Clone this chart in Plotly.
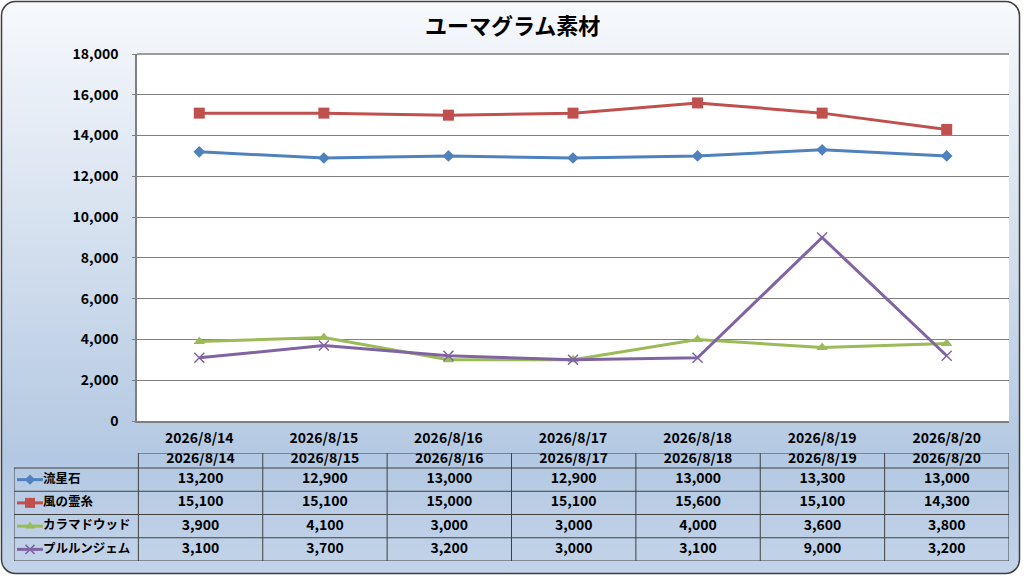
import base64

import plotly.graph_objects as go

W, H = 1024, 576

dates = ['2026/8/14', '2026/8/15', '2026/8/16', '2026/8/17', '2026/8/18', '2026/8/19', '2026/8/20']
series_names = ['流星石', '風の霊糸', 'カラマドウッド', 'プルルンジェム']
ryuseiseki = [13200, 12900, 13000, 12900, 13000, 13300, 13000]
kaze_no_reishi = [15100, 15100, 15000, 15100, 15600, 15100, 14300]
karama_wood = [3900, 4100, 3000, 3000, 4000, 3600, 3800]
pururun_gem = [3100, 3700, 3200, 3000, 3100, 9000, 3200]
y_ticks = [0, 2000, 4000, 6000, 8000, 10000, 12000, 14000, 16000, 18000]

series_values = [ryuseiseki, kaze_no_reishi, karama_wood, pururun_gem]
colors = ['#4F81BD', '#C0504D', '#9BBB59', '#8064A2']
symbols = ['diamond', 'square', 'triangle-up', 'x-thin']
sizes = [9, 11, 10, 10]

FONT = 'Noto Sans CJK JP'
TXT = dict(family=FONT, size=14, color='black', weight='bold')
NAME_TXT = dict(family=FONT, size=12.5, color='black', weight='bold')

# pixel layout (Excel-like chart with a data table underneath)
plot_l, plot_r, plot_t, plot_b = 137, 1009, 54, 421
tbl_l, tbl_r, tbl_t, tbl_b = 14, 1009, 453, 561
hdr_h = 15
row_h = (tbl_b - tbl_t - hdr_h) / 4
col_w = (tbl_r - tbl_l) / (len(dates) + 1)
hdr_rows = hdr_h / row_h


def px_x(v):
    return v / W


def px_y(v):
    return 1 - v / H


def tbl_x(px):
    # pixel -> table axis units (column 0 is the legend column)
    return (px - tbl_l) / col_w - 0.5


def tbl_y(px):
    return (px - tbl_t - hdr_h) / row_h - 0.5


# background: rounded box with a vertical white -> light blue gradient
bg_svg = f'''<svg xmlns="http://www.w3.org/2000/svg" width="{W}" height="{H}" viewBox="0 0 {W} {H}">
<defs><linearGradient id="g" x1="0" y1="0" x2="0" y2="1">
<stop offset="0" stop-color="#f7f9fc"/><stop offset="0.8" stop-color="#b3c8e2"/>
<stop offset="1" stop-color="#c3d4e9"/>
</linearGradient></defs>
<rect x="1.5" y="1.5" width="1018" height="572" rx="14" ry="14" fill="url(#g)" stroke="#3f3f3f" stroke-width="1.5"/>
</svg>'''
bg_src = 'data:image/svg+xml;base64,' + base64.b64encode(bg_svg.encode('utf-8')).decode('ascii')

fig = go.Figure()

for name, vals, col, sym, sz in zip(series_names, series_values, colors, symbols, sizes):
    fig.add_trace(go.Scatter(
        x=dates, y=vals, name=name, mode='lines+markers',
        line=dict(color=col, width=3),
        marker=dict(symbol=sym, size=sz, color=col, line=dict(color=col, width=1.5 if sym == 'x-thin' else 0)),
        showlegend=False, hoverinfo='x+y+name'))

# ---- data table on its own axes: columns 0..7 (0 = legend), rows 0..3 ----
n_cols = len(dates)
fig.add_trace(go.Scatter(
    x=list(range(1, n_cols + 1)), y=[tbl_y(459)] * n_cols, text=dates,
    mode='text', textposition='middle center', textfont=TXT,
    xaxis='x3', yaxis='y3', showlegend=False, hoverinfo='skip'))

for i, (name, vals, col, sym, sz) in enumerate(zip(series_names, series_values, colors, symbols, sizes)):
    fig.add_trace(go.Scatter(
        x=list(range(1, n_cols + 1)), y=[i] * n_cols, text=[f'{v:,}' for v in vals],
        mode='text', textposition='middle center', textfont=TXT,
        xaxis='x3', yaxis='y3', showlegend=False, hoverinfo='skip'))
    fig.add_trace(go.Scatter(
        x=[tbl_x(43)], y=[i], text=[name], mode='text', textposition='middle right', textfont=NAME_TXT,
        xaxis='x3', yaxis='y3', showlegend=False, hoverinfo='skip'))
    # legend key
    fig.add_trace(go.Scatter(
        x=[tbl_x(17), tbl_x(43)], y=[i, i], mode='lines', line=dict(color=col, width=3),
        xaxis='x3', yaxis='y3', showlegend=False, hoverinfo='skip'))
    fig.add_trace(go.Scatter(
        x=[tbl_x(30)], y=[i], mode='markers',
        marker=dict(symbol=sym, size=sz - 1, color=col, line=dict(color=col, width=1.5 if sym == 'x-thin' else 0)),
        xaxis='x3', yaxis='y3', showlegend=False, hoverinfo='skip'))

line_style = dict(color='#404040', width=1)
table_lines = []
hdr_top = -0.5 - hdr_rows
n_rows = len(series_names)
table_lines.append(dict(type='line', xref='x3', yref='y3', x0=0.5, x1=n_cols + 0.5,
                        y0=hdr_top, y1=hdr_top, line=line_style))
for r in range(n_rows + 1):
    table_lines.append(dict(type='line', xref='x3', yref='y3', x0=-0.5, x1=n_cols + 0.5,
                            y0=r - 0.5, y1=r - 0.5, line=line_style))
table_lines.append(dict(type='line', xref='x3', yref='y3', x0=-0.5, x1=-0.5,
                        y0=-0.5, y1=n_rows - 0.5, line=line_style))
for c in range(n_cols + 1):
    table_lines.append(dict(type='line', xref='x3', yref='y3', x0=c + 0.5, x1=c + 0.5,
                            y0=hdr_top, y1=n_rows - 0.5, line=line_style))

fig.update_layout(
    width=W, height=H,
    margin=dict(l=0, r=0, t=0, b=0, pad=0),
    paper_bgcolor='white',
    plot_bgcolor='rgba(0,0,0,0)',
    font=dict(family=FONT, size=14, color='black'),
    images=[dict(source=bg_src, xref='paper', yref='paper', x=0, y=1, sizex=1, sizey=1,
                 sizing='stretch', layer='below', xanchor='left', yanchor='top')],
    shapes=[dict(type='rect', xref='x domain', yref='y domain', x0=0, x1=1, y0=0, y1=1,
                 fillcolor='white', line=dict(width=0), layer='below'),
            dict(type='line', xref='x domain', yref='y domain', x0=0, x1=1, y0=1, y1=1,
                 line=dict(color='#7f7f7f', width=1.5))] + table_lines,
    annotations=[dict(text='<b>ユーマグラム素材</b>', xref='paper', yref='paper', x=0.5, y=px_y(24),
                      xanchor='center', yanchor='middle', showarrow=False,
                      font=dict(family=FONT, size=22, color='black'))],
    xaxis=dict(domain=[px_x(plot_l), px_x(plot_r)], type='category', range=[-0.5, len(dates) - 0.5],
               showgrid=False, showline=True, linecolor='#7f7f7f', linewidth=1.5, automargin=False,
               ticks='', ticklabelstandoff=3, tickfont=TXT, fixedrange=True),
    yaxis=dict(domain=[px_y(plot_b), px_y(plot_t)], range=[0, 18000], tickvals=y_ticks,
               tickformat=',d', showgrid=True, gridcolor='#7f7f7f', gridwidth=1, automargin=False,
               showline=True, linecolor='#7f7f7f', linewidth=1.5, zeroline=False,
               ticks='outside', ticklen=3, tickcolor='#7f7f7f', ticklabelstandoff=11,
               tickfont=TXT, fixedrange=True),
    xaxis3=dict(domain=[px_x(tbl_l), px_x(tbl_r)], range=[-0.5, n_cols + 0.5], visible=False,
                fixedrange=True, automargin=False, anchor='y3'),
    yaxis3=dict(domain=[px_y(tbl_b), px_y(tbl_t)], range=[n_rows - 0.5, hdr_top], visible=False,
                fixedrange=True, automargin=False, anchor='x3'),
)

fig.write_html("out.html", config={'displayModeBar': False},
               post_script="document.body.style.margin='0';")
